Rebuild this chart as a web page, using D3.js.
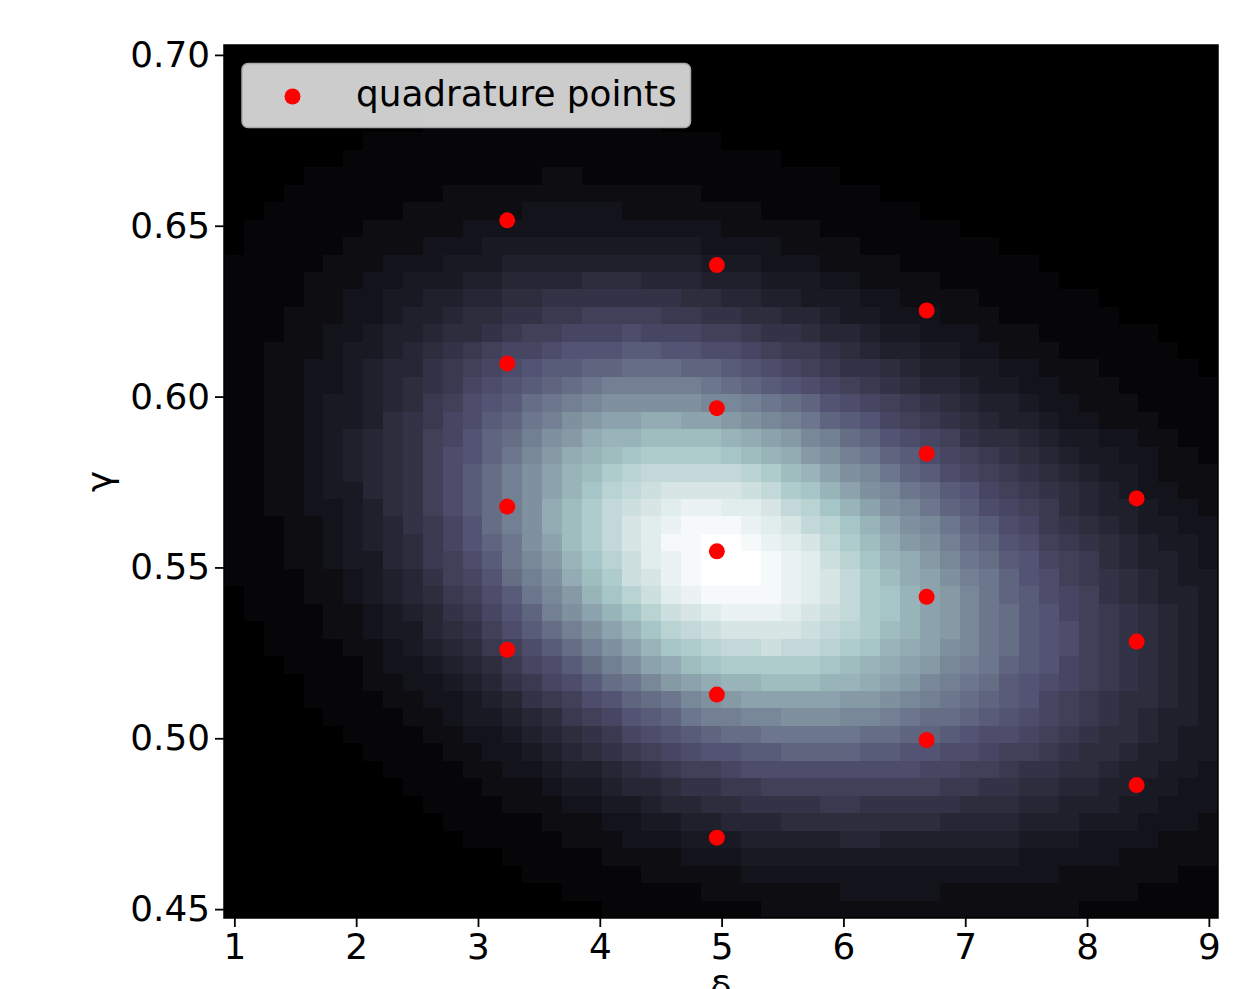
<!DOCTYPE html>
<html>
<head>
<meta charset="utf-8">
<script src="https://cdn.jsdelivr.net/npm/d3@7"></script>
<style>
  body { margin: 0; background: #fff; }
  svg { display: block; }
  text { font-family: "DejaVu Sans", sans-serif; }
</style>
</head>
<body>
<svg id="chart" width="1248" height="989"></svg>
<script>
// axis ranges (image extent) and ticks
const deltaRange = [0.915, 9.075];
const gammaRange = [0.4474, 0.7029];
const deltaTicks = [1, 2, 3, 4, 5, 6, 7, 8, 9];
const gammaTicks = [0.45, 0.50, 0.55, 0.60, 0.65, 0.70];

// quadrature points
const quadDelta = [3.240, 3.240, 3.240, 3.240,
                   4.961, 4.961, 4.961, 4.961, 4.961,
                   6.683, 6.683, 6.683, 6.683,
                   8.407, 8.407, 8.407];
const quadGamma = [0.6516, 0.6097, 0.5678, 0.5259,
                   0.6385, 0.5966, 0.5547, 0.5128, 0.4709,
                   0.6252, 0.5833, 0.5414, 0.4995,
                   0.5702, 0.5283, 0.4863];

// density image, 50 x 50 cells, top row first; one base-36 digit per cell (0..z = 0..35)
const densityRows = [
  "0000000000 0000000000 0000000000 0000000000 0000000000",
  "0000000000 0000000000 0000000000 0000000000 0000000000",
  "0000000000 0000000000 0000000000 0000000000 0000000000",
  "0000000000 0000000000 0000000000 0000000000 0000000000",
  "0000000000 1111111111 1100000000 0000000000 0000000000",
  "0000000111 1111111111 1111100000 0000000000 0000000000",
  "0000001111 1111111111 1111111100 0000000000 0000000000",
  "0000111111 1111112211 1111111111 1000000000 0000000000",
  "0001111111 1222222222 2222111111 1110000000 0000000000",
  "0011111112 2222233333 2222222111 1111100000 0000000000",
  "0111111222 2233333333 3333322222 1111111000 0000000000",
  "0111112222 3334444444 4444333322 2211111110 0000000000",
  "1111122233 3444555555 5555444333 2222111111 1000000000",
  "1111222334 4455666677 7666555444 3322221111 1100000000",
  "1111223344 5566778888 8887766554 4433222211 1111000000",
  "1112223345 56778899aa aa99887766 5443332221 1111100000",
  "1112233455 67789aabbb cbbbaa9887 6654433322 2111111000",
  "1122234456 789abbcddd eeddccba99 8765544332 2211111100",
  "1122334566 89abcdeeff gggffedcba 9887655443 3222111110",
  "1122334567 89bcdefghi iiiihgfedc ba98766544 3322211111",
  "1122344567 9acdeghijk kkkkjjihgf dcba987655 4332221111",
  "1122344578 9bcefhiklm mnnmmlkjih fedba98765 5433222111",
  "1122345678 abdfgiklno opppponmlj igfdcba877 6544332211",
  "1122345678 acdfhjlnop qrrrrqponl kihfecba98 7654433221",
  "1122345678 acegikmopr stttttsrpo mkjhfecba9 8765443222",
  "1122344678 acegikmoqs tuvvvvutrq omkjhgedba 9876543322",
  "1122334578 acegiknprt uvwxxwwvts qomkjhfecb a976554332",
  "1112234568 9bdgiknprt vwxyyyxwvt sqomkjhfec b987654433",
  "1112234567 9bdfhkmprt vwyyzzyxwv trpnlkigfd ca98765443",
  "1112234467 9acehjloqs uwxyzzzyxw usqonljhge dba9765543",
  "1111223456 8abdgiknpr uvxyzzzyxw vtrpnmkihf dca9876544",
  "0111223456 79acehjloq suwxyyyyxw vtrqomljhf ecba876554",
  "0111122345 689bdfikmo qsuvwxxxwv utrqomljhg edba987654",
  "0011122344 678acegikm oqstuvvvvu tsrpomljhg edca987654",
  "0011112234 5679acegik moqrsttutt srqonmkjhg edca987654",
  "0001111233 45679bcegi kmnpqrrrrr qponmljihf edba987654",
  "0000111223 345689bceg hjlmnooppp oonmljihge dcba987654",
  "0000111122 3345689acd fghjklmmmm mllkjihgfe dba9877654",
  "0000011112 23445679ab defhiijjkk kjjihggfed cba9876554",
  "0000001111 2233456789 bcdefgghhh hhggffedcc ba98776544",
  "0000000111 1223345678 9abcddeeff ffeeddccba a987765544",
  "0000000011 1122334556 789aabcccc cccccbbaa9 8877655443",
  "0000000001 1112223445 6678899aaa aaaaaa9988 7766554433",
  "0000000000 1111222334 4566778888 9988888777 6655544333",
  "0000000000 0111112223 3445566677 7777776666 5554443332",
  "0000000000 0011111222 3334445555 5665555555 4443333222",
  "0000000000 0000111112 2223334444 4444444444 3333322222",
  "0000000000 0000011111 1222223333 3333333333 3322222211",
  "0000000000 0000000111 1111222222 2333332222 2222221111",
  "0000000000 0000000001 1111111222 2222222222 2221111111"
];
const densityLevels = 35;

const legendLabel = "quadrature points";
const xLabel = "δ";
const yLabel = "γ";

const margin = { top: 45, right: 30, bottom: 71, left: 224 };
const svg = d3.select("#chart");
const width = +svg.attr("width") - margin.left - margin.right;
const height = +svg.attr("height") - margin.top - margin.bottom;
const fontSize = 35.8;

const g = svg.append("g").attr("transform", `translate(${margin.left},${margin.top})`);

const xScale = d3.scaleLinear().domain(deltaRange).range([0, width]);
const yScale = d3.scaleLinear().domain(gammaRange).range([height, 0]);

// matplotlib "bone" colormap
const boneR = d3.scaleLinear().domain([0, 0.746032, 1]).range([0, 0.652778, 1]);
const boneG = d3.scaleLinear().domain([0, 0.365079, 0.746032, 1]).range([0, 0.319444, 0.777778, 1]);
const boneB = d3.scaleLinear().domain([0, 0.365079, 1]).range([0, 0.444444, 1]);
const bone = t => d3.rgb(boneR(t) * 255, boneG(t) * 255, boneB(t) * 255).toString();

const grid = densityRows.map(s => s.replace(/ /g, ""));
const cells = [];
grid.forEach((row, r) => {
  row.split("").forEach((ch, c) => {
    cells.push({ row: r, col: c, value: parseInt(ch, 36) / densityLevels });
  });
});

const colBand = d3.scaleBand().domain(d3.range(grid[0].length)).range([0, width]);
const rowBand = d3.scaleBand().domain(d3.range(grid.length)).range([0, height]);

svg.append("defs").append("clipPath").attr("id", "plot-clip")
  .append("rect").attr("width", width).attr("height", height);

const plot = g.append("g").attr("clip-path", "url(#plot-clip)");

plot.append("g")
  .attr("shape-rendering", "crispEdges")
  .selectAll("rect")
  .data(cells)
  .enter().append("rect")
  .attr("x", d => colBand(d.col))
  .attr("y", d => rowBand(d.row))
  .attr("width", colBand.bandwidth() + 1)
  .attr("height", rowBand.bandwidth() + 1)
  .attr("fill", d => bone(d.value));

// quadrature points
plot.append("g")
  .selectAll("circle")
  .data(quadDelta.map((d, i) => ({ delta: d, gamma: quadGamma[i] })))
  .enter().append("circle")
  .attr("cx", d => xScale(d.delta))
  .attr("cy", d => yScale(d.gamma))
  .attr("r", 8)
  .attr("fill", "#ff0000");

// axes
const xAxis = g.append("g")
  .attr("transform", `translate(0, ${height})`)
  .call(d3.axisBottom(xScale).tickValues(deltaTicks).tickFormat(d3.format("d"))
    .tickSize(9).tickPadding(7).tickSizeOuter(0));

const yAxis = g.append("g")
  .call(d3.axisLeft(yScale).tickValues(gammaTicks).tickFormat(d3.format(".2f"))
    .tickSize(9).tickPadding(5).tickSizeOuter(0));

[xAxis, yAxis].forEach(ax => {
  ax.select(".domain").remove();
  ax.selectAll(".tick line").attr("stroke", "#000").attr("stroke-width", 1.8);
  ax.selectAll(".tick text")
    .attr("fill", "#000")
    .style("font-family", "'DejaVu Sans', sans-serif")
    .style("font-size", fontSize + "px");
});

// frame
g.append("rect")
  .attr("width", width)
  .attr("height", height)
  .attr("fill", "none")
  .attr("stroke", "#000")
  .attr("stroke-width", 1.5);

// axis labels
g.append("text")
  .attr("x", width / 2)
  .attr("y", height + 83)
  .attr("text-anchor", "middle")
  .style("font-size", fontSize + "px")
  .text(xLabel);

g.append("text")
  .attr("transform", `translate(${112 - margin.left}, ${height / 2}) rotate(-90)`)
  .attr("text-anchor", "middle")
  .style("font-size", fontSize + "px")
  .text(yLabel);

// legend
const legend = g.append("g").attr("transform", "translate(18, 18.5)");
legend.append("rect")
  .attr("width", 448.5)
  .attr("height", 64)
  .attr("rx", 6)
  .attr("fill", "#ffffff")
  .attr("fill-opacity", 0.8)
  .attr("stroke", "#a9a9a9")
  .attr("stroke-width", 1.5);
legend.append("circle")
  .attr("cx", 50.5)
  .attr("cy", 33)
  .attr("r", 8)
  .attr("fill", "#ff0000");
legend.append("text")
  .attr("x", 114)
  .attr("y", 42)
  .style("font-size", fontSize + "px")
  .attr("fill", "#000")
  .text(legendLabel);
</script>
</body>
</html>
